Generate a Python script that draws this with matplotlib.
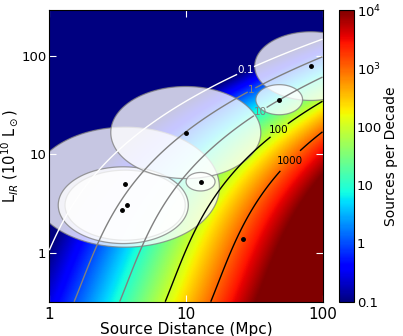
import numpy as np
import matplotlib
matplotlib.use('Agg')
import matplotlib.pyplot as plt
from matplotlib.ticker import FixedLocator, FixedFormatter, NullLocator
from matplotlib.colors import LogNorm

# model: sources per decade = D^3 * 10**poly(log10 L)  (poly coefficients, highest power first)
lf_coef = [-0.2793, -0.2494, -0.9204, -0.9784]

# sources
src_D = [3.59, 3.69, 3.41, 9.98, 82.0, 48.2, 12.8, 26.1]
src_L = [4.92, 3.05, 2.69, 16.6, 78.6, 35.8, 5.25, 1.365]

# uncertainty ellipses (centre, half-width in dex)
ell_D = [3.59, 3.59, 3.48, 9.98, 82.0, 48.2, 12.8]
ell_L = [4.62, 3.03, 3.03, 16.6, 78.6, 35.8, 5.25]
ell_wx = [0.69, 0.44, 0.476, 0.549, 0.41, 0.171, 0.106]
ell_wy = [0.61, 0.356, 0.39, 0.468, 0.349, 0.153, 0.094]

levels = [0.1, 1, 10, 100, 1000]
level_labels = ['0.1', '1', '10', '100', '1000']
level_colors = ['white', 'gray', 'gray', 'black', 'black']
label_pos = [(25.8, 84.3), (29.0, 50.1), (33.3, 30.1), (42.8, 21.7), (48.2, 11.0)]

cb_ticks = [0.1, 1, 10, 100, 1000, 10000]
cb_labels = ['0.1', '1', '10', '100', '$10^3$', '$10^4$']

fig = plt.figure(figsize=(4.03, 3.36), dpi=100)
ax = fig.add_axes([0.1223, 0.102, 0.678, 0.868])
cax = fig.add_axes([0.841, 0.102, 0.038, 0.868])

xmin, xmax = 1.0, 100.0
ymin, ymax = 10 ** -0.5, 10 ** 2.465
ax.set_xscale('log')
ax.set_yscale('log')
ax.set_xlim(xmin, xmax)
ax.set_ylim(ymin, ymax)
ax.set_autoscale_on(False)

Dg, Lg = np.meshgrid(np.logspace(0, 2, 400), np.logspace(-0.5, 2.465, 400))
N = Dg ** 3 * 10 ** np.polyval(lf_coef, np.log10(Lg))

mesh = ax.pcolormesh(Dg, Lg, N, cmap='jet', norm=LogNorm(0.1, 1e4), shading='gouraud', zorder=0)

t = np.linspace(0, 2 * np.pi, 200)
for cx, cy, wx, wy in zip(ell_D, ell_L, ell_wx, ell_wy):
    ex = 10 ** (np.log10(cx) + wx * np.cos(t))
    ey = 10 ** (np.log10(cy) + wy * np.sin(t))
    ax.fill(ex, ey, facecolor='white', edgecolor='gray', alpha=0.78, lw=0.9, zorder=2)

cs = ax.contour(Dg, Lg, N, levels=levels, colors=level_colors, linewidths=1.0, zorder=3)
texts = ax.clabel(cs, fmt=dict(zip(levels, level_labels)), manual=label_pos, fontsize=7.5,
                  inline=True, inline_spacing=1)
for tx in texts:
    tx.set_rotation(0)

ax.plot(src_D, src_L, 'o', color='black', ms=2.5, zorder=4)

ax.xaxis.set_major_locator(FixedLocator([1, 10, 100]))
ax.xaxis.set_major_formatter(FixedFormatter(['1', '10', '100']))
ax.yaxis.set_major_locator(FixedLocator([1, 10, 100]))
ax.yaxis.set_major_formatter(FixedFormatter(['1', '10', '100']))
ax.xaxis.set_minor_locator(NullLocator())
ax.yaxis.set_minor_locator(NullLocator())
ax.tick_params(direction='in', color='white', top=True, right=True, length=5)
ax.tick_params(axis='x', labelsize=11, pad=4)
ax.tick_params(axis='y', labelsize=9.5, pad=2)
ax.set_xlabel('Source Distance (Mpc)', fontsize=11, labelpad=0)
ax.set_ylabel(r'L$_{IR}$ (10$^{10}$ L$_\odot$)', fontsize=10.5, labelpad=1)

cb = fig.colorbar(mesh, cax=cax)
cb.set_ticks(cb_ticks)
cb.set_ticklabels(cb_labels)
cb.ax.minorticks_off()
cb.ax.tick_params(labelsize=9.5, length=0, pad=2)
cb.set_label('Sources per Decade', fontsize=10, labelpad=1)

fig.savefig('out.png', dpi=100)
